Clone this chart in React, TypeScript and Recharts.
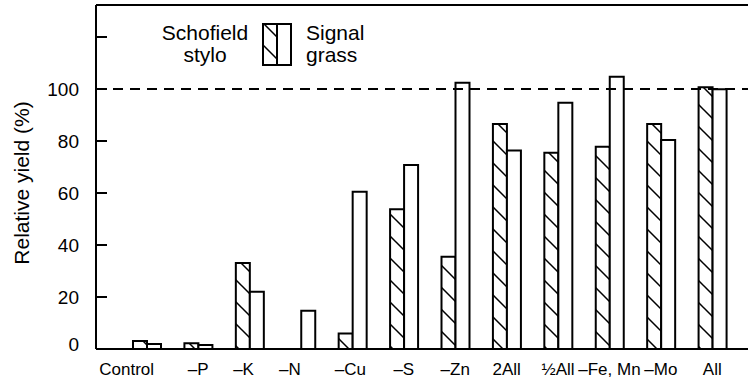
import React from "react";
import {
  BarChart,
  Bar,
  XAxis,
  YAxis,
  ReferenceLine,
  Legend,
} from "recharts";

// Relative yield of Schofield stylo vs Signal grass under nutrient omission.

const CATEGORIES = [
  "Control",
  "–P",
  "–K",
  "–N",
  "–Cu",
  "–S",
  "–Zn",
  "2All",
  "½All",
  "–Fe, Mn",
  "–Mo",
  "All",
];
const STYLO = [3.1, 2.2, 33.1, 0, 6.0, 53.7, 35.5, 86.5, 75.5, 77.8, 86.5, 100.7];
const GRASS = [1.9, 1.5, 22.0, 14.7, 60.5, 70.8, 102.4, 76.3, 94.7, 104.7, 80.4, 99.9];
const Y_TICKS = [0, 20, 40, 60, 80, 100, 120];
const Y_MAX = 132.3;

const FONT = "'Liberation Sans', Arial, Helvetica, sans-serif";
const INK = "#000";
const Y_TICK_MARGIN = 17;

// a few x labels sit left of their bar pair in the original
const LABEL_SHIFT: Record<string, number> = {
  Control: -20,
  "–K": -6,
  "–N": -11,
  "–Cu": -2,
};

const data = CATEGORIES.map((category, i) => ({
  category,
  stylo: STYLO[i],
  grass: GRASS[i],
}));

function YTick(props: any) {
  const { x, y, payload } = props;
  const v = payload.value as number;
  const axisX = x + Y_TICK_MARGIN;
  return (
    <g>
      {v !== 0 && (
        <line x1={axisX} x2={axisX + 11} y1={y} y2={y} stroke={INK} strokeWidth={2} />
      )}
      {v !== 120 && (
        <text
          x={x}
          y={y}
          dy={v === 0 ? 2 : 7}
          textAnchor="end"
          fontSize={19}
          fontFamily={FONT}
          fill={INK}
        >
          {v}
        </text>
      )}
    </g>
  );
}

function XTick(props: any) {
  const { x, y, payload } = props;
  const label = payload.value as string;
  return (
    <text
      x={x + (LABEL_SHIFT[label] ?? 0)}
      y={y}
      dy={26}
      textAnchor="middle"
      fontSize={17}
      fontFamily={FONT}
      fill={INK}
    >
      {label}
    </text>
  );
}

function YLabel() {
  return (
    <text
      transform="translate(29,183) rotate(-90)"
      textAnchor="middle"
      fontSize={21}
      fontFamily={FONT}
      fill={INK}
    >
      Relative yield (%)
    </text>
  );
}

function LegendBox() {
  return (
    <svg width={400} height={80} style={{ display: "block" }}>
      <defs>
        <pattern id="hatchLegend" patternUnits="userSpaceOnUse" width={22} height={22} y={2}>
          <path d="M0,0 L22,22 M-6,16 L6,28 M16,-6 L28,6" stroke={INK} strokeWidth={1.5} />
        </pattern>
      </defs>
      <text x={205} y={40} textAnchor="middle" fontSize={21} fontFamily={FONT} fill={INK}>
        Schofield
      </text>
      <text x={205} y={62} textAnchor="middle" fontSize={21} fontFamily={FONT} fill={INK}>
        stylo
      </text>
      <rect x={263} y={24} width={14} height={41} fill="url(#hatchLegend)" stroke={INK} strokeWidth={2} />
      <rect x={277} y={24} width={14} height={41} fill="#fff" stroke={INK} strokeWidth={2} />
      <text x={306} y={40} fontSize={21} fontFamily={FONT} fill={INK}>
        Signal
      </text>
      <text x={306} y={62} fontSize={21} fontFamily={FONT} fill={INK}>
        grass
      </text>
    </svg>
  );
}

export default function App() {
  return (
    <div style={{ position: "absolute", left: 0, top: 0, width: 749, height: 379, background: "#fff" }}>
      <BarChart
        width={749}
        height={379}
        data={data}
        margin={{ top: 5, right: 1, left: 0, bottom: 0 }}
        barGap={0}
      >
        <defs>
          <pattern id="hatch" patternUnits="userSpaceOnUse" width={22} height={22}>
            <path d="M0,0 L22,22 M-6,16 L6,28 M16,-6 L28,6" stroke={INK} strokeWidth={1.5} />
          </pattern>
        </defs>
        <XAxis
          dataKey="category"
          interval={0}
          height={30}
          tickSize={0}
          tickMargin={0}
          tickLine={false}
          tick={<XTick />}
          padding={{ left: 25, right: 10 }}
          axisLine={{ stroke: INK, strokeWidth: 2 }}
        />
        <YAxis
          width={96}
          domain={[0, Y_MAX]}
          ticks={Y_TICKS}
          interval={0}
          tickSize={0}
          tickMargin={Y_TICK_MARGIN}
          tickLine={false}
          tick={<YTick />}
          axisLine={{ stroke: INK, strokeWidth: 2 }}
          label={{ content: () => <YLabel /> }}
        />
        <Legend
          layout="horizontal"
          verticalAlign="middle"
          align="center"
          content={() => <LegendBox />}
          wrapperStyle={{ position: "absolute", left: 0, top: 0, width: 400, height: 80 }}
        />
        <Bar
          dataKey="stylo"
          name="Schofield stylo"
          barSize={14}
          fill="url(#hatch)"
          stroke={INK}
          strokeWidth={2}
          isAnimationActive={false}
        />
        <Bar
          dataKey="grass"
          name="Signal grass"
          barSize={14}
          fill="#fff"
          stroke={INK}
          strokeWidth={2}
          isAnimationActive={false}
        />
        <ReferenceLine y={100} stroke={INK} strokeWidth={2} strokeDasharray="10 7" />
        <ReferenceLine y={Y_MAX} stroke={INK} strokeWidth={2} />
      </BarChart>
    </div>
  );
}
